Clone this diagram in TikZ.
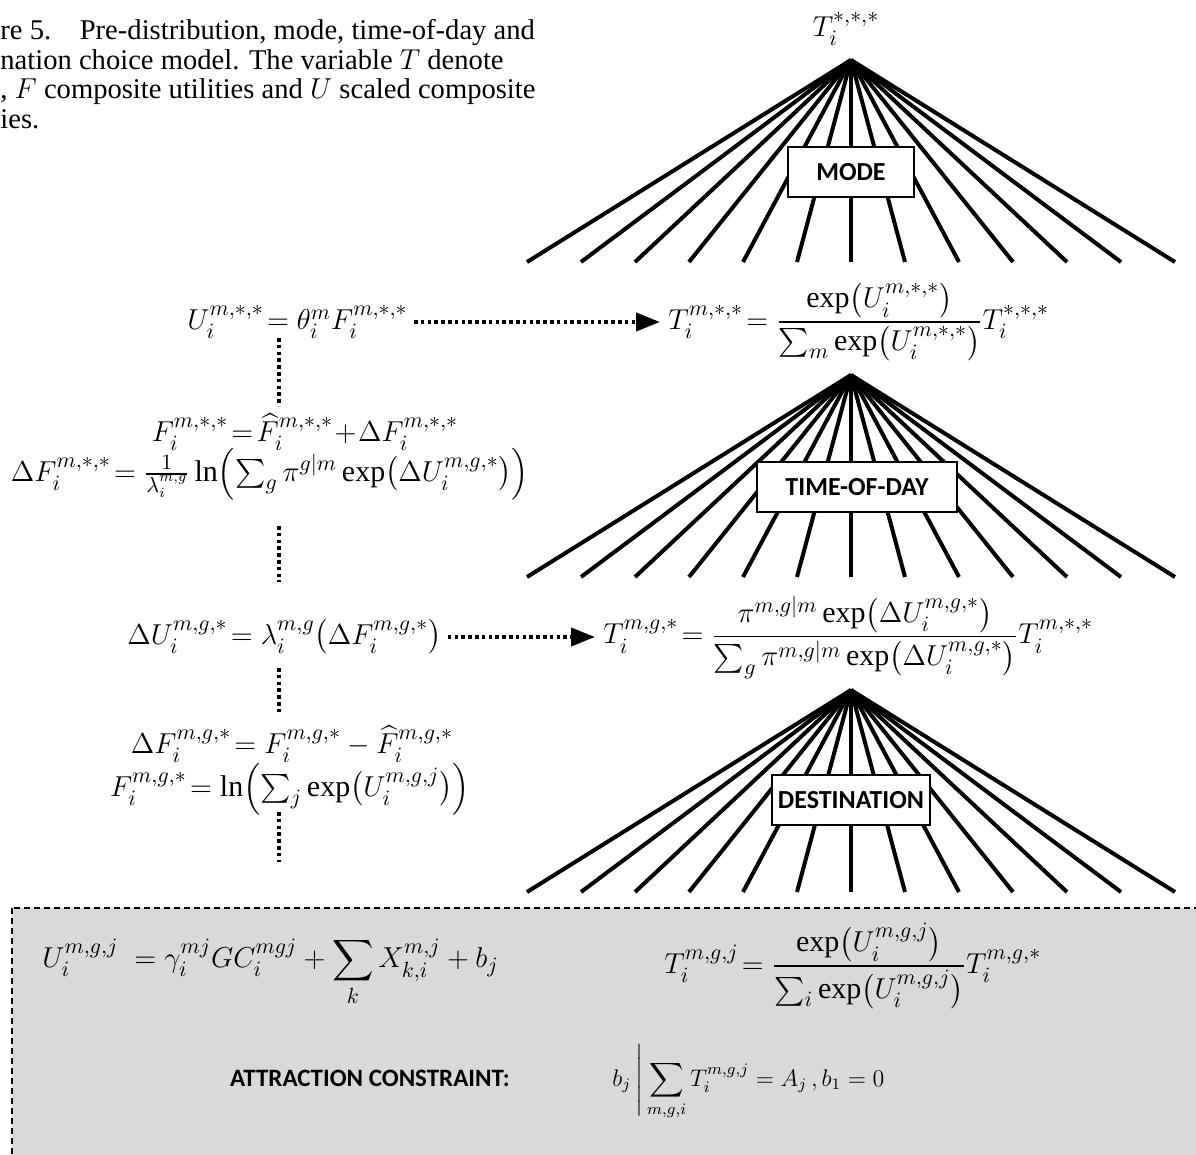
\documentclass[tikz,border=0pt]{standalone}
\usepackage{amsmath}
\usepackage{fontspec}
\setmainfont{Liberation Serif}
\newfontfamily\boxfont{Carlito}
\usetikzlibrary{arrows.meta, positioning, calc}
\definecolor{cnstGrey}{HTML}{D9D9D9}
\tikzset{
  fanline/.style   = {black, line width=2pt},
  levelbox/.style  = {draw, fill=white, line width=0.8pt, minimum height=25pt,
                      inner xsep=3pt,
                      font=\boxfont\bfseries\fontsize{13}{15}\selectfont},
  linkline/.style  = {black, line width=2pt, dash pattern=on 1.8pt off 1.6pt},
  linkarrow/.style = {linkline, -{Triangle[length=12pt, width=9pt]},
                      shorten <=3pt, shorten >=4pt},
  eqn/.style       = {inner sep=0pt, font=\fontsize{15}{18}\selectfont},
  smalleqn/.style  = {inner sep=0pt, font=\fontsize{12}{14}\selectfont},
  cnstbox/.style   = {fill=cnstGrey, draw=black, line width=0.8pt,
                      dash pattern=on 3pt off 2pt},
  caption/.style   = {inner sep=0pt, align=left, font=\fontsize{14.3}{14.8}\selectfont},
}

\begin{document}
\begin{tikzpicture}[x=0.5pt, y=-0.5pt]
  \useasboundingbox (0,0) rectangle (1196,1155);
  % caption, cut off on the left
  \node[caption, anchor=north west] (cap) at (0,19)
    {re 5.\quad Pre-distribution, mode, time-of-day and\\
     nation choice model. The variable $T$ denote\\
     , $F$ composite utilities and $U$ scaled composite\\
     ies.};
  % constraint box at the bottom
  \path[cnstbox] (12,908) rectangle (1204,1165);

  % three fans: apex, 13 feet, a label box
  \foreach \lvl/\ay in {mode/60, tod/375, dest/690} {
    \coordinate (\lvl apex) at (851,\ay);
    \foreach \k in {0,...,12}
      \coordinate (\lvl foot\k) at (527+54*\k,\ay+202);
    \foreach \k in {0,...,12}
      \draw[fanline] (\lvl apex) -- (\lvl foot\k);
  }
  \node[levelbox, minimum width=63pt]  (modebox) at (851,172) {MODE};
  \node[levelbox, minimum width=100pt] (todbox)  at (857,487) {TIME-OF-DAY};
  \node[levelbox, minimum width=76pt]  (destbox) at (851,800) {DESTINATION};

  \node[eqn] (tall) at (846,29) {$T_i^{*,*,*}$};

  % left column
  \node[eqn, anchor=west] (eqU) at (187,322)
    {$U_i^{m,*,*}\!=\theta_i^{m}F_i^{m,*,*}$};
  \node[eqn, anchor=west] (eqTm) at (668,322)
    {$T_i^{m,*,*}\!=\dfrac{\exp\bigl(U_i^{m,*,*}\bigr)}{\sum_m\exp\bigl(U_i^{m,*,*}\bigr)}T_i^{*,*,*}$};
  \node[eqn] (eqF) at (305,432)
    {$F_i^{m,*,*}\!=\!\widehat{F}_i^{m,*,*}\!+\!\Delta F_i^{m,*,*}$};
  \node[eqn] (eqdF) at (270,474)
    {$\Delta F_i^{m,*,*}\!=\frac{1}{\lambda_i^{m,g}}\ln\Bigl(\sum_g\pi^{g|m}\exp\bigl(\Delta U_i^{m,g,*}\bigr)\Bigr)$};
  \node[eqn, anchor=west] (eqdU) at (127,637)
    {$\Delta U_i^{m,g,*}\!=\lambda_i^{m,g}\bigl(\Delta F_i^{m,g,*}\bigr)$};
  \node[eqn, anchor=west] (eqTg) at (603,637)
    {$T_i^{m,g,*}\!=\dfrac{\pi^{m,g|m}\exp\bigl(\Delta U_i^{m,g,*}\bigr)}{\sum_g\pi^{m,g|m}\exp\bigl(\Delta U_i^{m,g,*}\bigr)}T_i^{m,*,*}$};
  \node[eqn] (eqdFg) at (292,744)
    {$\Delta F_i^{m,g,*}\!=F_i^{m,g,*}-\widehat{F}_i^{m,g,*}$};
  \node[eqn] (eqFg) at (290,789)
    {$F_i^{m,g,*}\!=\ln\Bigl(\sum_j\exp\bigl(U_i^{m,g,j}\bigr)\Bigr)$};

  % dotted links
  \draw[linkarrow] (eqU.east) -- (eqU.east -| eqTm.west);
  \draw[linkarrow] (eqdU.east) -- (eqdU.east -| eqTg.west);
  \foreach \a/\b [count=\n] in {338/406, 526/582, 668/714, 812/862} {
    \coordinate (vtop\n) at (279,\a);
    \coordinate (vbot\n) at (279,\b);
    \draw[linkline] (vtop\n) -- (vbot\n);
  }

  % inside the constraint box
  \node[eqn, anchor=west] (eqUj) at (42,972)
    {$U_i^{m,g,j}\;=\gamma_i^{mj}GC_i^{mgj}+\displaystyle\sum_k X_{k,i}^{m,j}+b_j$};
  \node[eqn, anchor=west] (eqTj) at (664,966)
    {$T_i^{m,g,j}\!=\dfrac{\exp\bigl(U_i^{m,g,j}\bigr)}{\sum_i\exp\bigl(U_i^{m,g,j}\bigr)}T_i^{m,g,*}$};
  \node[font=\boxfont\bfseries\fontsize{12.5}{14}\selectfont] (cnstlbl) at (370,1078)
    {ATTRACTION CONSTRAINT:};
  \node[smalleqn, anchor=west] (eqB) at (612,1082)
    {$b_j\left|\,\displaystyle\sum_{m,g,i}T_i^{m,g,j}=A_j\,,b_1=0\right.$};
\end{tikzpicture}
\end{document}
